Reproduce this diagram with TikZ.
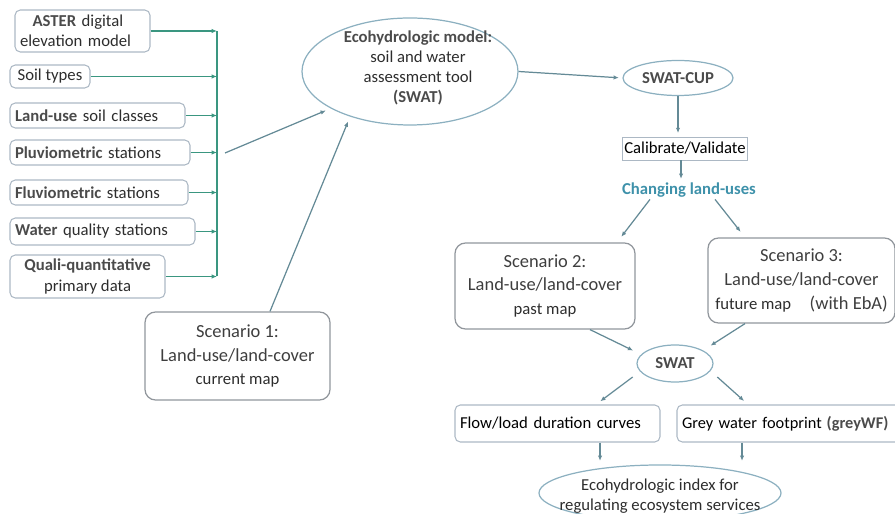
\documentclass[tikz,border=0pt]{standalone}
\usepackage{fontspec}
\setmainfont{Carlito}
\usetikzlibrary{calc,shapes.geometric,arrows.meta}
\definecolor{busgreen}{RGB}{58,150,128}
\definecolor{linkgrey}{RGB}{100,138,150}
\definecolor{boxline}{RGB}{172,184,196}
\definecolor{scenline}{RGB}{145,150,156}
\definecolor{ovalline}{RGB}{140,176,192}
\definecolor{txtgrey}{RGB}{45,45,45}
\definecolor{darkword}{RGB}{75,75,75}
\definecolor{scentext}{RGB}{62,62,62}
\definecolor{changeblue}{RGB}{62,145,170}
\newcommand{\dk}[1]{{\bfseries\color{darkword}#1}}
\tikzset{
	inbox/.style={draw=boxline, rounded corners=3pt, line width=0.6pt, inner sep=2pt, text=txtgrey, font=\fontsize{9.5}{11.5}\selectfont},
	scenbox/.style={draw=scenline, rounded corners=6pt, line width=0.7pt, align=center, text=scentext, font=\fontsize{10.5}{13.5}\selectfont},
	oval/.style={ellipse, draw=ovalline, line width=0.7pt, inner sep=0pt},
	ovaltext/.style={align=center, text=txtgrey, font=\fontsize{9.5}{11.5}\selectfont},
	busarrow/.style={draw=busgreen, line width=0.9pt, -{Latex[length=3pt,width=2.5pt]}},
	linkarrow/.style={draw=linkgrey, line width=0.7pt, -{Latex[length=3pt,width=2.5pt]}, shorten >=2pt}
}

\begin{document}
\begin{tikzpicture}
		%%%%% START %%%%%
		\useasboundingbox (0, 0) rectangle (17.9, 10.28);
		
		% inputs
		\node[inbox, minimum width=2.7cm, minimum height=0.84cm, text width=2.5cm, align=left] (aster) at (1.65, 9.66) {\hspace{0.25cm}\dk{ASTER} digital\\elevation model};
		\node[inbox, minimum width=1.6cm, minimum height=0.46cm] (soil) at (1.0, 8.75) {Soil types};
		\node[inbox, minimum width=3.5cm, minimum height=0.5cm, text width=3.3cm, align=left] (landuse) at (1.95, 7.97) {\dk{Land-use} soil classes};
		\node[inbox, minimum width=3.6cm, minimum height=0.5cm, text width=3.4cm, align=left] (pluvio) at (2.0, 7.23) {\dk{Pluviometric} stations};
		\node[inbox, minimum width=3.56cm, minimum height=0.5cm, text width=3.36cm, align=left] (fluvio) at (1.98, 6.43) {\dk{Fluviometric} stations};
		\node[inbox, minimum width=3.7cm, minimum height=0.54cm, text width=3.5cm, align=left] (water) at (2.05, 5.65) {\dk{Water}\ quality stations};
		\node[inbox, minimum width=3.1cm, minimum height=0.86cm, align=center] (quali) at (1.75, 4.75) {\dk{Quali-quantitative}\\primary data};
		
		\coordinate (bus) at (4.34, 0);
		\coordinate (busout) at (4.5, 7.22);
		\draw[busgreen, line width=0.9pt] (aster.east -| bus) -- (quali.east -| bus);
		\draw[busarrow] (aster.east) -- (aster.east -| bus);
		\draw[busarrow] (soil.east) -- (soil.east -| bus);
		\draw[busarrow] (landuse.east) -- (landuse.east -| bus);
		\draw[busarrow] (pluvio.east) -- (pluvio.east -| bus);
		\draw[busarrow] (fluvio.east) -- (fluvio.east -| bus);
		\draw[busarrow] (water.east) -- (water.east -| bus);
		\draw[busarrow] (quali.east) -- (quali.east -| bus);
		
		% model
		\node[oval, minimum width=4.32cm, minimum height=2.14cm] (model) at (8.2, 8.85) {};
		\node[ovaltext] (modeltxt) at (8.36, 8.92) {\dk{Ecohydrologic model:}\\soil and water\\assessment tool\\\dk{(SWAT)}};
		\draw[linkarrow, shorten >=3pt] (busout) -- (model.205);
		
		\node[scenbox, minimum width=3.7cm, minimum height=1.76cm] (scen1) at (4.75, 3.16) {Scenario 1:\\Land-use/land-cover\\{\color{txtgrey}\fontsize{9.5}{13.5}\selectfont current map}};
		\draw[linkarrow, shorten >=3pt] ([xshift=0.65cm]scen1.north) -- (model.217);
		
		% calibration
		\node[oval, minimum width=2.2cm, minimum height=0.7cm, ovaltext] (cup) at (13.56, 8.72) {\dk{SWAT-CUP}};
		\draw[linkarrow] (model.east) -- (cup.west);
		
		\node[draw=boxline, line width=0.5pt, minimum width=2.4cm, minimum height=0.46cm, inner sep=1pt, font=\fontsize{9.5}{11.5}\selectfont] (calib) at (13.7, 7.31) {Calibrate/Validate};
		\draw[linkarrow] (cup.south) -- (cup.south |- calib.north);
		
		\node[text=changeblue, font=\fontsize{9.5}{11.5}\selectfont\bfseries, inner sep=1pt] (change) at (13.78, 6.48) {Changing land-uses};
		\draw[linkarrow, shorten >=1pt] ([xshift=-0.08cm]calib.south) -- ([xshift=-0.08cm]calib.south |- change.north);
		
		% scenarios 2 and 3
		\node[scenbox, minimum width=3.6cm, minimum height=1.72cm] (scen2) at (10.9, 4.56) {Scenario 2:\\Land-use/land-cover\\{\color{txtgrey}\fontsize{9.5}{13.5}\selectfont past map}};
		\node[scenbox, minimum width=3.74cm, minimum height=1.7cm] (scen3) at (16.03, 4.67) {Scenario 3:\\Land-use/land-cover\\{\color{txtgrey}\fontsize{9.5}{13.5}\selectfont future map}\quad (with EbA)};
		\draw[linkarrow, shorten >=4pt] ([xshift=-0.78cm]change.south) -- ([xshift=1.44cm]scen2.north);
		\draw[linkarrow, shorten >=4pt] ([xshift=0.52cm]change.south) -- ([xshift=-1.13cm]scen3.north);
		
		% swat runs
		\node[oval, minimum width=1.52cm, minimum height=0.74cm, ovaltext] (swat) at (13.5, 3.01) {\dk{SWAT}};
		\draw[linkarrow, shorten >=5pt] ([xshift=0.9cm]scen2.south) -- (swat.165);
		\draw[linkarrow, shorten >=5pt] ([xshift=-1.13cm]scen3.south) -- (swat.25);
		
		\node[inbox, minimum width=4.1cm, minimum height=0.74cm, text width=3.9cm, align=left, text=black] (flow) at (11.15, 1.81) {Flow/load duration curves};
		\node[inbox, minimum width=4.56cm, minimum height=0.74cm, text width=4.36cm, align=left, text=black, font=\fontsize{9.3}{11.5}\selectfont] (grey) at (15.82, 1.81) {Grey water footprint\hspace{0.3em}\dk{(greyWF)}};
		\draw[linkarrow, shorten >=3pt] ([xshift=-0.3cm]swat.south west) -- ([xshift=0.77cm]flow.north);
		\draw[linkarrow, shorten >=3pt] ([xshift=0.3cm]swat.south east) -- ([xshift=-0.86cm]grey.north);
		
		% index
		\node[oval, minimum width=4.84cm, minimum height=1.12cm] (index) at (13.2, 0.42) {};
		\node[ovaltext] (indextxt) at (13.2, 0.36) {Ecohydrologic index for\\regulating ecosystem services};
		\draw[linkarrow] ([xshift=0.85cm]flow.south) -- ([xshift=0.85cm]flow.south |- index.north);
		\draw[linkarrow] ([xshift=-0.98cm]grey.south) -- ([xshift=-0.98cm]grey.south |- index.north);
		
		%%%%% END %%%%%
	\end{tikzpicture}
\end{document}
